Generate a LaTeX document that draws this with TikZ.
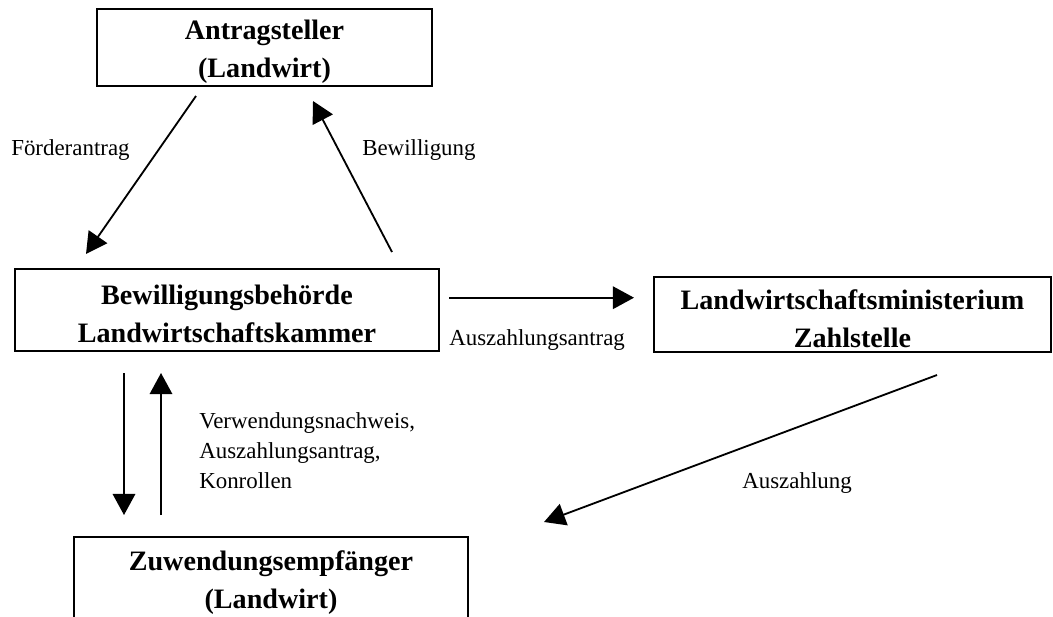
\documentclass[tikz,border=0pt]{standalone}
\usepackage{fontspec}
\setmainfont{Liberation Serif}
\usetikzlibrary{arrows.meta}
\usetikzlibrary{positioning}
\newcommand{\boxstrut}{\rule{0pt}{20pt}}
\tikzset{box/.style = {draw, line width = 1.2pt, align = center, inner sep = 0, font = \fontsize{20}{27}\selectfont\bfseries}}
\tikzset{lbl/.style = {inner sep = 0, font = \fontsize{16.3}{21.3}\selectfont}}
\tikzset{flow/.style = {-{Triangle[length = 15pt, width = 16pt]}, line width = 1.3pt}}

\begin{document}
\begin{tikzpicture}
      \useasboundingbox (0, 0) rectangle (26.325, -15.4);

      \node [box, minimum width = 8.375cm, minimum height = 1.925cm] (antrag) at (6.6125, -1.1875) {\boxstrut Antragsteller\\(Landwirt)};
      \node [box, minimum width = 10.6cm, minimum height = 2.05cm] (behoerde) at (5.675, -7.75) {\boxstrut Bewilligungsbehörde\\Landwirtschaftskammer};
      \node [box, minimum width = 9.925cm, minimum height = 1.875cm] (ministerium) at (21.3125, -7.8625) {\boxstrut Landwirtschaftsministerium\\Zahlstelle};
      \node [box, minimum width = 9.85cm, minimum height = 2.05cm] (empfaenger) at (6.775, -14.45) {\boxstrut Zuwendungsempfänger\\(Landwirt)};

      \coordinate (foerderA) at (4.9, -2.4);
      \coordinate (foerderB) at (2.15, -6.35);
      \coordinate (bewillA) at (9.8, -6.3);
      \coordinate (bewillB) at (7.825, -2.525);
      \coordinate (antragA) at (11.225, -7.4425);
      \coordinate (antragB) at (15.85, -7.4425);
      \coordinate (zahlA) at (23.425, -9.375);
      \coordinate (zahlB) at (13.6, -13.05);
      \coordinate (downA) at (3.1, -9.325);
      \coordinate (downB) at (3.1, -12.875);
      \coordinate (upA) at (4.025, -12.875);
      \coordinate (upB) at (4.025, -9.325);

      \draw [flow] (foerderA) -- (foerderB);
      \draw [flow] (bewillA) -- (bewillB);
      \draw [flow] (antragA) -- (antragB);
      \draw [flow] (zahlA) -- (zahlB);
      \draw [flow] (downA) -- (downB);
      \draw [flow] (upA) -- (upB);

      \node [lbl, anchor = base west] (foerder) at (0.275, -3.875) {Förderantrag};
      \node [lbl, anchor = base west] (bewill) at (9.05, -3.875) {Bewilligung};
      \node [lbl, anchor = base west] (auszantrag) at (11.225, -8.625) {Auszahlungsantrag};
      \node [lbl, anchor = base west] (ausz) at (18.55, -12.2) {Auszahlung};
      \node [lbl, anchor = north west, align = left] (nachweis) at (4.975, -10.3) {Verwendungsnachweis,\\Auszahlungsantrag,\\Konrollen};
    \end{tikzpicture}
\end{document}
